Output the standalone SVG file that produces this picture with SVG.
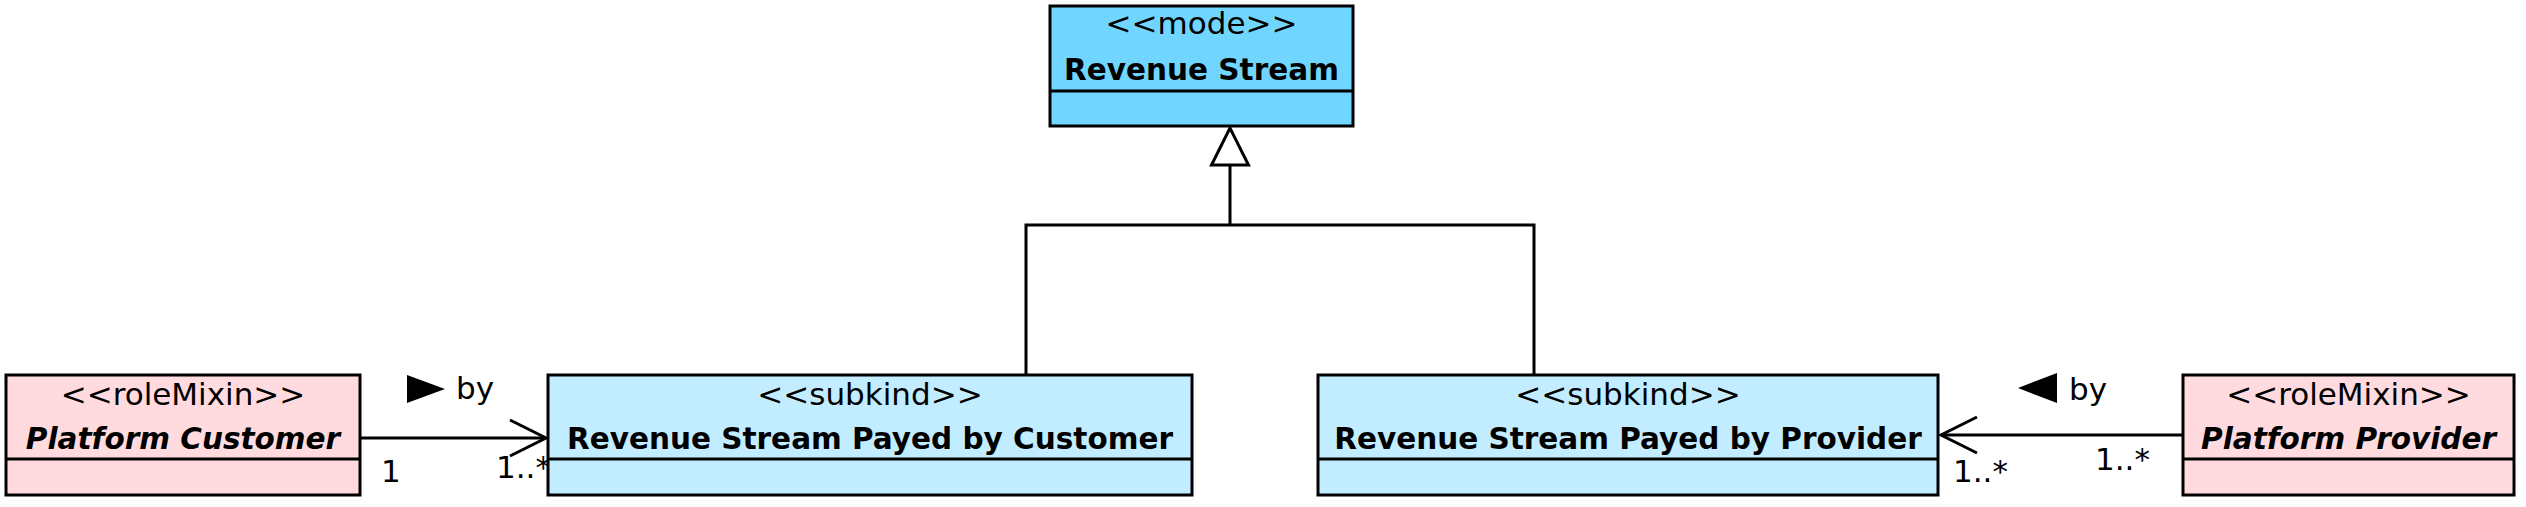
<svg xmlns="http://www.w3.org/2000/svg" width="2526" height="507" viewBox="0 0 2526 507">
<style>
  .box { stroke: #000; stroke-width: 3; }
  .mode { fill: #70D6FF; }
  .sub { fill: #C2ECFF; }
  .role { fill: #FFDBDF; }
  .div { stroke: #000; stroke-width: 3; fill: none; }
  .st { font-family: "DejaVu Sans", sans-serif; font-size: 31px; text-anchor: middle; fill: #000; }
  .nm { font-family: "DejaVu Sans", sans-serif; font-size: 29.5px; font-weight: bold; text-anchor: middle; fill: #000; }
  .it { font-style: italic; }
  .ln { stroke: #000; stroke-width: 3; fill: none; }
  .lbl { font-family: "DejaVu Sans", sans-serif; font-size: 31px; fill: #000; }
</style>
<rect width="2526" height="507" fill="#fff"/>
<g id="connectors">
  <path class="ln" d="M1230,165 V225 M1026,375 V225 H1534 V375"/>
  <polygon points="1230,128 1211.5,165 1248.5,165" fill="#fff" stroke="#000" stroke-width="3"/>
  <line class="ln" x1="360" y1="438" x2="546" y2="438"/>
  <polyline class="ln" points="510,420 546,438 510,456"/>
  <polygon points="407,375 445,389 407,403" fill="#000"/>
  <text class="lbl" x="456" y="399">by</text>
  <text class="lbl" x="381" y="482">1</text>
  <text class="lbl" x="496" y="478">1..*</text>
  <line class="ln" x1="2183" y1="435" x2="1941" y2="435"/>
  <polyline class="ln" points="1977,417 1941,435 1977,453"/>
  <polygon points="2057,373 2018,388 2057,403" fill="#000"/>
  <text class="lbl" x="2069" y="400">by</text>
  <text class="lbl" x="1953" y="482">1..*</text>
  <text class="lbl" x="2095" y="470">1..*</text>
</g>
<g id="revenue-stream">
  <rect class="box mode" x="1050" y="6" width="303" height="120"/>
  <line class="div" x1="1050" y1="91" x2="1353" y2="91"/>
  <text class="st" x="1201.5" y="34">&lt;&lt;mode&gt;&gt;</text>
  <text class="nm" x="1201.5" y="80">Revenue Stream</text>
</g>
<g id="platform-customer">
  <rect class="box role" x="6" y="375" width="354" height="120"/>
  <line class="div" x1="6" y1="459" x2="360" y2="459"/>
  <text class="st" x="183" y="405">&lt;&lt;roleMixin&gt;&gt;</text>
  <text class="nm it" x="183" y="449">Platform Customer</text>
</g>
<g id="rs-customer">
  <rect class="box sub" x="548" y="375" width="644" height="120"/>
  <line class="div" x1="548" y1="459" x2="1192" y2="459"/>
  <text class="st" x="870" y="405">&lt;&lt;subkind&gt;&gt;</text>
  <text class="nm" x="870" y="449">Revenue Stream Payed by Customer</text>
</g>
<g id="rs-provider">
  <rect class="box sub" x="1318" y="375" width="620" height="120"/>
  <line class="div" x1="1318" y1="459" x2="1938" y2="459"/>
  <text class="st" x="1628" y="405">&lt;&lt;subkind&gt;&gt;</text>
  <text class="nm" x="1628" y="449">Revenue Stream Payed by Provider</text>
</g>
<g id="platform-provider">
  <rect class="box role" x="2183" y="375" width="331" height="120"/>
  <line class="div" x1="2183" y1="459" x2="2514" y2="459"/>
  <text class="st" x="2348.5" y="405">&lt;&lt;roleMixin&gt;&gt;</text>
  <text class="nm it" x="2348.5" y="449">Platform Provider</text>
</g>
</svg>
